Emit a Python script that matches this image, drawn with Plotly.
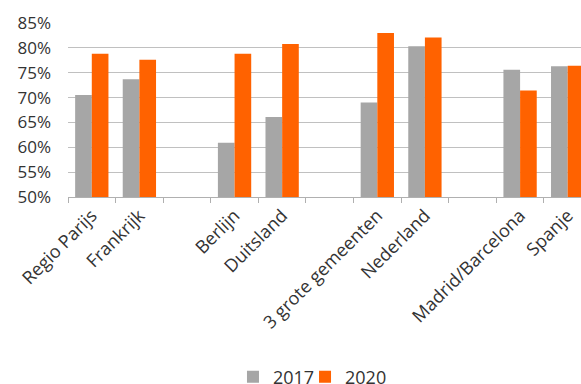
import plotly.graph_objects as go

categories = ["Regio Parijs", "Frankrijk", " ", "Berlijn", "Duitsland", "  ",
              "3 grote gemeenten", "Nederland", "   ", "Madrid/Barcelona", "Spanje"]
values_2017 = [70.5, 73.7, None, 60.9, 66.1, None, 69.0, 80.3, None, 75.6, 76.3]
values_2020 = [78.8, 77.6, None, 78.8, 80.8, None, 83.0, 82.1, None, 71.4, 76.4]
y_ticks = [50, 55, 60, 65, 70, 75, 80, 85]
y_tick_labels = [f"{v}%" for v in y_ticks]

GRAY = "#a6a6a6"
ORANGE = "#ff6200"
FONT = "Open Sans"
TEXT = "#333333"

fig = go.Figure()
fig.add_trace(go.Bar(name="2017", x=categories, y=values_2017, marker_color=GRAY,
                     marker_line_width=0, legend="legend"))
fig.add_trace(go.Bar(name="2020", x=categories, y=values_2020, marker_color=ORANGE,
                     marker_line_width=0, legend="legend2"))

legend_common = dict(orientation="h", xref="container", yref="container",
                     xanchor="left", y=0.018, yanchor="middle",
                     bgcolor="rgba(0,0,0,0)", borderwidth=0,
                     font=dict(size=18, color=TEXT), itemwidth=30)

fig.update_layout(
    width=581, height=384,
    margin=dict(l=68, r=0, t=23, b=187, autoexpand=False),
    paper_bgcolor="white", plot_bgcolor="white",
    barmode="group", bargap=0.3, bargroupgap=0,
    font=dict(family=FONT, size=17, color=TEXT),
    legend=dict(x=0.401, **legend_common),
    legend2=dict(x=0.525, **legend_common),
    showlegend=True,
)
fig.update_xaxes(
    type="category", range=[-0.5, 10.28], tickangle=-45, automargin=False,
    showline=True, linecolor="#b0b0b0", linewidth=1,
    ticks="outside", tickson="boundaries", ticklen=5, tickcolor="#b0b0b0",
    showgrid=False, tickfont=dict(size=18, color=TEXT),
)
fig.update_yaxes(
    range=[50, 85], tickvals=y_ticks, ticktext=y_tick_labels, automargin=False,
    showgrid=True, gridcolor="#c0c0c0", gridwidth=1,
    zeroline=False, showline=False, ticks="", ticklabelstandoff=16,
    tickfont=dict(size=17, color=TEXT),
)

fig.write_html("out.html", config={"displayModeBar": False},
               post_script="document.body.style.margin='0';document.body.style.overflow='hidden';")
